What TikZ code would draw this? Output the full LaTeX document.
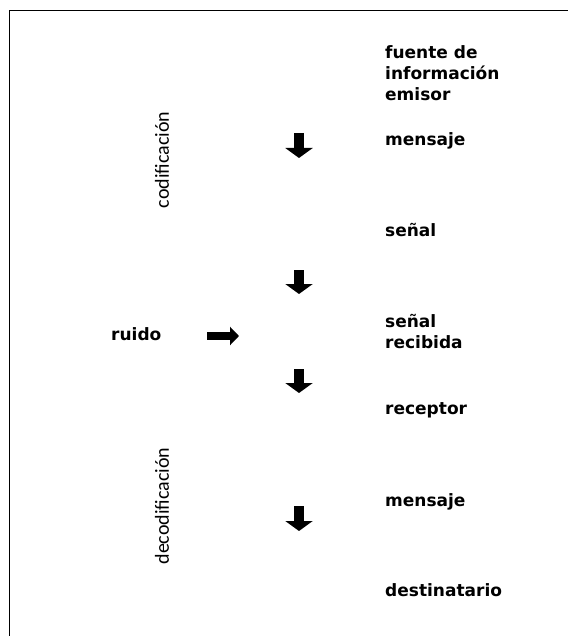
\documentclass[tikz,border=0pt]{standalone}
\usepackage{fontspec}
\setmainfont{DejaVu Sans}
\newfontfamily\sidefont{Carlito}
\usetikzlibrary{arrows.meta}

\begin{document}
\begin{tikzpicture}[
    x=1pt,y=-1pt,
    lbl/.style={anchor=west,font=\bfseries\fontsize{17}{21}\selectfont,align=left,inner sep=0pt},
    side/.style={rotate=90,font=\sidefont\fontsize{20}{24}\selectfont,inner sep=0pt},
    blk/.style={line width=10pt,-{Triangle[width=27pt,length=10pt]}}
    ]
    \useasboundingbox (0,0) rectangle (568,636);
    \draw[line width=1pt] (9,636) -- (9,11) -- (568,11);
    \node[lbl] (fuente) at (385,73) {fuente de\\información\\emisor};
    \node[lbl] (msg1) at (385,141) {mensaje};
    \node[lbl] (senal) at (385,230) {señal};
    \node[lbl] (recib) at (385,332) {señal\\recibida};
    \node[lbl] (recep) at (385,410) {receptor};
    \node[lbl] (msg2) at (385,502) {mensaje};
    \node[lbl] (dest) at (385,590) {destinatario};
    \node[lbl] (ruido) at (111,334) {ruido};
    \node[side] (cod) at (162,160) {codificación};
    \node[side] (decod) at (162,506) {decodificación};
    \coordinate (a1) at (299,133); \coordinate (b1) at (299,158);
    \coordinate (a2) at (299,270); \coordinate (b2) at (299,294);
    \coordinate (a3) at (299,369); \coordinate (b3) at (299,393);
    \coordinate (a4) at (299,506); \coordinate (b4) at (299,531);
    \coordinate (r1) at (207,336); \coordinate (r2) at (239,336);
    \foreach \i in {1,2,3,4}
      \draw[blk] (a\i) -- (b\i);
    \draw[blk,line width=8pt,-{Triangle[width=18pt,length=9pt]}] (r1) -- (r2);
  \end{tikzpicture}
\end{document}
